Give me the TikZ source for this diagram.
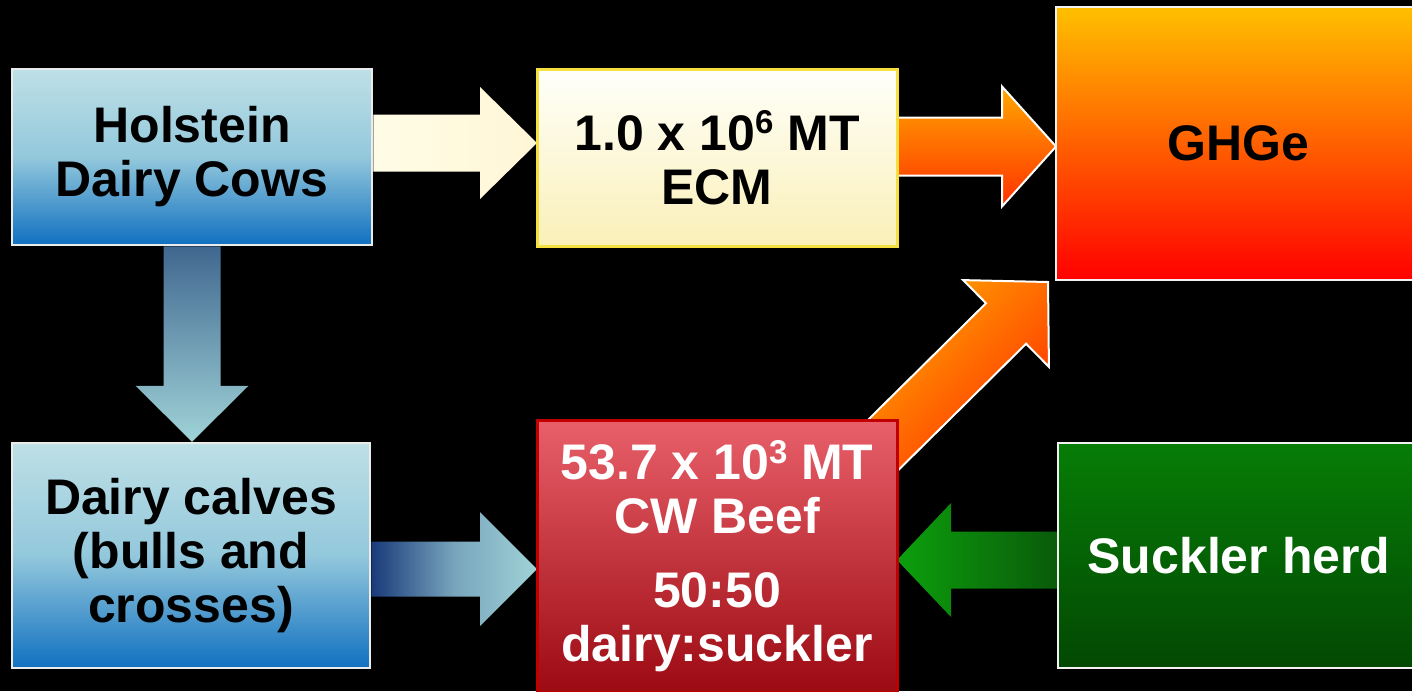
\documentclass[tikz,border=0pt]{standalone}
\usepackage{fontspec}
\setmainfont{Liberation Sans}
\usetikzlibrary{calc}
\definecolor{bgblack}{HTML}{000000}
\definecolor{bluetop}{HTML}{BEE0E6}
\definecolor{bluemid}{HTML}{93C8DC}
\definecolor{bluebot}{HTML}{1070C0}
\definecolor{ecmtop}{HTML}{FFFFFA}
\definecolor{ecmbot}{HTML}{FAF0B8}
\definecolor{ecmline}{HTML}{F5E040}
\definecolor{ghgtop}{HTML}{FFC000}
\definecolor{ghgmid}{HTML}{FF9A00}
\definecolor{ghgbot}{HTML}{FF0000}
\definecolor{redtop}{HTML}{E9606A}
\definecolor{redbot}{HTML}{9C0A12}
\definecolor{redline}{HTML}{C00000}
\definecolor{grntop}{HTML}{067D06}
\definecolor{grnbot}{HTML}{034803}
\definecolor{cream}{HTML}{FFFCE6}
\definecolor{creamr}{HTML}{FFF6D6}
\definecolor{orgtop}{HTML}{FFA800}
\definecolor{orgbot}{HTML}{FF3000}
\definecolor{navy}{HTML}{1A3A7A}
\definecolor{steel}{HTML}{40678F}
\definecolor{teal}{HTML}{A0D3D8}
\definecolor{grnbright}{HTML}{0CA00C}
\definecolor{grndark}{HTML}{0A5A0A}
\newcommand\supnum[1]{\raisebox{0.33em}{\fontsize{33}{33}\selectfont #1}}
% block arrow: #1 start, #2 tip, #3 shaft half width, #4 head half width, #5 head length, #6 style
\newcommand\blockarr[6]{%
  \coordinate (hb) at ($(#2)!#5!(#1)$);
  \path[#6] ($(#1)!#3!90:(#2)$) -- ($(hb)!#3!-90:(#1)$) -- ($(hb)!#4!-90:(#1)$)
    -- (#2) -- ($(hb)!#4!90:(#1)$) -- ($(hb)!#3!90:(#1)$) -- ($(#1)!#3!-90:(#2)$) -- cycle;}
\tikzset{
  box/.style={rectangle, inner sep=0pt, align=center, line width=2.5pt,
    font=\bfseries\fontsize{50}{54}\selectfont},
  bluebox/.style={box, draw=white!92!black, top color=bluetop, bottom color=bluebot, middle color=bluemid, text=black},
}
\begin{document}
\begin{tikzpicture}[x=1pt,y=-1pt]
\useasboundingbox (0,0) rectangle (1412,691);
\fill[bgblack] (0,0) rectangle (1412,691);

% nodes (placed first for anchors, redrawn later on top)
\path
  node[bluebox, minimum width=360pt, minimum height=176pt] (hol) at (192,157) {}
  node[bluebox, minimum width=358pt, minimum height=225pt] (calv) at (191,555.5) {}
  coordinate (ecmW) at (537,157.5) coordinate (ecmE) at (897,157.5)
  coordinate (ghgSW) at (1056,280) coordinate (ghgW) at (1056,143.5)
  coordinate (redW) at (537,556) coordinate (redE) at (897,556) coordinate (redNE) at (897,420)
  coordinate (suckW) at (1058,555.5);

% arrows
\coordinate (dgs) at ($(redNE)+(-27,38)$);
\coordinate (dgt) at ($(ghgSW)+(-8,2)$);
\blockarr{dgs}{dgt}{28.5pt}{61pt}{59pt}{draw=white, line width=2pt, top color=orgtop, bottom color=orgbot, shading angle=45}

\coordinate (a1s) at (hol.east |- 0,143);
\coordinate (a1t) at (ecmW |- 0,143);
\blockarr{a1s}{a1t}{28.5pt}{56pt}{57pt}{left color=cream, right color=creamr}

\coordinate (a2s) at (ecmE |- 0,146.5);
\coordinate (a2t) at (ghgW |- 0,146.5);
\blockarr{a2s}{a2t}{29pt}{60pt}{54pt}{draw=white, line width=2pt, top color=orgtop, bottom color=orgbot}

\coordinate (a3s) at (hol.south);
\coordinate (a3t) at (hol.south |- calv.north);
\blockarr{a3s}{a3t}{28.5pt}{56.5pt}{56pt}{top color=steel, bottom color=teal}

\coordinate (a4s) at (calv.east |- 0,569);
\coordinate (a4t) at (redW |- 0,569);
\blockarr{a4s}{a4t}{27.5pt}{57pt}{57pt}{left color=navy, right color=teal, middle color=teal!70!navy}

\coordinate (a5s) at (suckW |- 0,560);
\coordinate (a5t) at (redE |- 0,560);
\blockarr{a5s}{a5t}{28.5pt}{57pt}{54pt}{left color=grnbright, right color=grndark}

% boxes
\node[box, draw=ecmline, line width=3pt, top color=ecmtop, bottom color=ecmbot, text=black,
  minimum width=360pt, minimum height=177pt] (ecm) at (717,157.5) {1.0 x 10\supnum{6} MT\\ECM};
\node[box, draw=white!95!black, top color=ghgtop, middle color=ghgmid, bottom color=ghgbot, text=black,
  minimum width=364pt, minimum height=273pt] (ghg) at (1238,143.5) {GHGe};
\node[box, draw=redline, line width=3pt, top color=redtop, bottom color=redbot, text=white,
  minimum width=360pt, minimum height=272pt] (red) at (717,556) {53.7 x 10\supnum{3} MT\\CW Beef\\[20pt]50:50\\dairy:suckler};
\node[box, draw=white!95!black, top color=grntop, bottom color=grnbot, text=white,
  minimum width=362pt, minimum height=225pt] (suck) at (1239,555.5) {Suckler herd};
\node[bluebox, minimum width=360pt, minimum height=176pt] (holtxt) at (hol) {Holstein\\Dairy Cows};
\node[bluebox, minimum width=358pt, minimum height=225pt] (calvtxt) at (calv) {Dairy calves\\(bulls and\\crosses)};
\end{tikzpicture}
\end{document}
